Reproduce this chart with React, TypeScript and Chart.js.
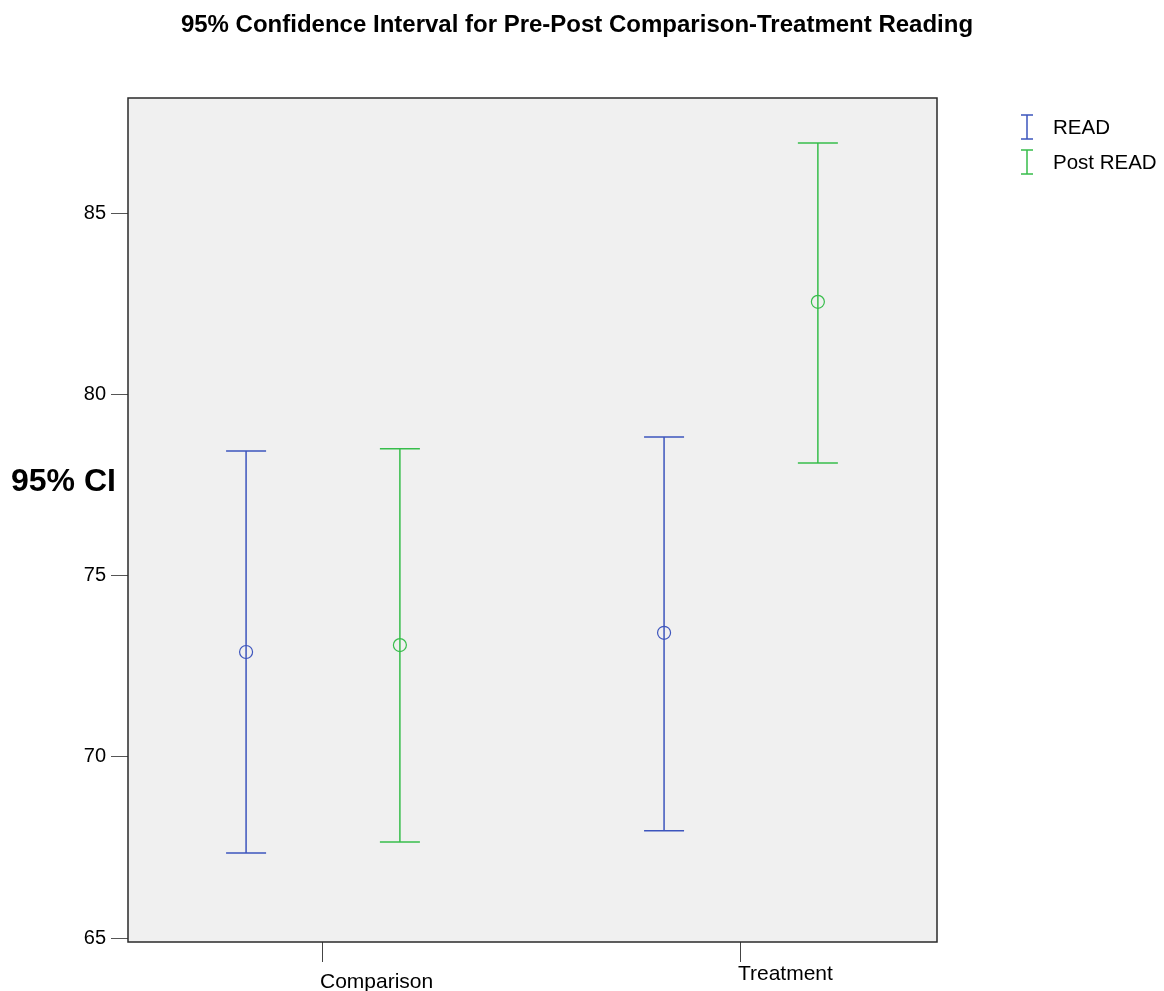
import React, { useEffect, useRef } from "react";
import { Chart, registerables } from "chart.js";

Chart.register(...registerables);

const categories = ["Comparison", "Treatment"];
const seriesNames = ["READ", "Post READ"];
const readMean = [72.9, 73.43];
const readLower = [67.35, 67.96];
const readUpper = [78.45, 78.84];
const postMean = [73.09, 82.57];
const postLower = [67.65, 78.12];
const postUpper = [78.51, 86.96];
const yTicks = [65, 70, 75, 80, 85];

const TITLE = "95% Confidence Interval for Pre-Post Comparison-Treatment Reading";
const Y_TITLE = "95% CI";
const FONT = "'Liberation Sans', Arial, sans-serif";
const BLUE = "#3d55bd";
const GREEN = "#37bd4b";
const OFFSET = 0.184;
const CAP = 20;

const errorBarPlugin = {
  id: "errorBars",
  beforeDraw(chart: any) {
    const { ctx, chartArea: a } = chart;
    ctx.save();
    ctx.fillStyle = "#f0f0f0";
    ctx.fillRect(a.left, a.top, a.right - a.left, a.bottom - a.top);
    ctx.restore();
  },
  beforeDatasetsDraw(chart: any) {
    const { ctx } = chart;
    const ys = chart.scales.y;
    chart.data.datasets.forEach((ds: any, i: number) => {
      const meta = chart.getDatasetMeta(i);
      ctx.save();
      ctx.strokeStyle = ds.borderColor;
      ctx.lineWidth = 1.5;
      meta.data.forEach((pt: any, j: number) => {
        const x = pt.x;
        const yl = ys.getPixelForValue(ds.lower[j]);
        const yu = ys.getPixelForValue(ds.upper[j]);
        ctx.beginPath();
        ctx.moveTo(x, yl);
        ctx.lineTo(x, yu);
        ctx.moveTo(x - CAP, yl);
        ctx.lineTo(x + CAP, yl);
        ctx.moveTo(x - CAP, yu);
        ctx.lineTo(x + CAP, yu);
        ctx.stroke();
      });
      ctx.restore();
    });
  },
  afterDraw(chart: any) {
    const { ctx, chartArea: a } = chart;
    ctx.save();
    ctx.strokeStyle = "#2a2a2a";
    ctx.lineWidth = 1.5;
    ctx.strokeRect(a.left, a.top, a.right - a.left, a.bottom - a.top);

    // title
    ctx.fillStyle = "#000";
    ctx.font = `bold 24px ${FONT}`;
    ctx.textAlign = "center";
    ctx.textBaseline = "middle";
    ctx.fillText(TITLE, 577, 25);

    // y title
    ctx.font = `bold 32px ${FONT}`;
    ctx.textAlign = "left";
    ctx.fillText(Y_TITLE, 11, 482);

    // x category labels (staggered, left-aligned at tick)
    const xs = chart.scales.x;
    ctx.font = `21px ${FONT}`;
    ctx.textAlign = "left";
    categories.forEach((c, i) => {
      const x = xs.getPixelForValue(i + 1);
      ctx.fillText(c, x - 3, i % 2 === 0 ? 982 : 974);
    });

    // legend
    chart.data.datasets.forEach((ds: any, i: number) => {
      const cy = 127 + i * 35;
      const lx = 1027;
      ctx.strokeStyle = ds.borderColor;
      ctx.lineWidth = 1.5;
      ctx.beginPath();
      ctx.moveTo(lx, cy - 12);
      ctx.lineTo(lx, cy + 12);
      ctx.moveTo(lx - 6, cy - 12);
      ctx.lineTo(lx + 6, cy - 12);
      ctx.moveTo(lx - 6, cy + 12);
      ctx.lineTo(lx + 6, cy + 12);
      ctx.stroke();
      ctx.fillStyle = "#000";
      ctx.font = `20.5px ${FONT}`;
      ctx.textAlign = "left";
      ctx.fillText(ds.label, 1053, cy + 1);
    });
    ctx.restore();
  },
};

export default function App() {
  const ref = useRef<HTMLCanvasElement>(null);
  useEffect(() => {
    if (!ref.current) return;
    const mk = (means: number[], lo: number[], hi: number[], off: number, color: string, label: string) => ({
      type: "scatter",
      label,
      data: means.map((m, i) => ({ x: i + 1 + off, y: m })),
      lower: lo,
      upper: hi,
      borderColor: color,
      backgroundColor: "rgba(0,0,0,0)",
      pointRadius: 6.5,
      pointBorderWidth: 1.2,
      pointStyle: "circle",
    });
    const chart = new Chart(ref.current, {
      type: "scatter",
      data: {
        datasets: [
          mk(readMean, readLower, readUpper, -OFFSET, BLUE, seriesNames[0]),
          mk(postMean, postLower, postUpper, OFFSET, GREEN, seriesNames[1]),
        ] as any,
      },
      options: {
        responsive: false,
        animation: false,
        layout: { padding: { top: 98, right: 227, left: 0, bottom: 0 } },
        plugins: { legend: { display: false }, tooltip: { enabled: false }, title: { display: false } },
        scales: {
          x: {
            type: "linear",
            min: 0.5335,
            max: 2.469,
            afterBuildTicks: (s: any) => {
              s.ticks = categories.map((_, i) => ({ value: i + 1 }));
            },
            afterFit: (s: any) => {
              s.height = 49;
            },
            grid: { drawOnChartArea: false, drawTicks: true, tickLength: 20, color: "#444", lineWidth: 1 },
            border: { display: false },
            ticks: { display: false },
          },
          y: {
            type: "linear",
            min: 64.89,
            max: 88.2,
            afterBuildTicks: (s: any) => {
              s.ticks = yTicks.map((v) => ({ value: v }));
            },
            afterFit: (s: any) => {
              s.width = 128;
            },
            grid: { drawOnChartArea: false, drawTicks: true, tickLength: 17, color: "#555", lineWidth: 1 },
            border: { display: false },
            ticks: { font: { family: FONT, size: 20 }, color: "#000", padding: 5 },
          },
        },
      },
      plugins: [errorBarPlugin],
    } as any);
    return () => chart.destroy();
  }, []);
  return (
    <div style={{ position: "absolute", left: 0, top: 0, width: 1164, height: 991, background: "#fff" }}>
      <canvas ref={ref} width={1164} height={991} style={{ display: "block" }} />
    </div>
  );
}
